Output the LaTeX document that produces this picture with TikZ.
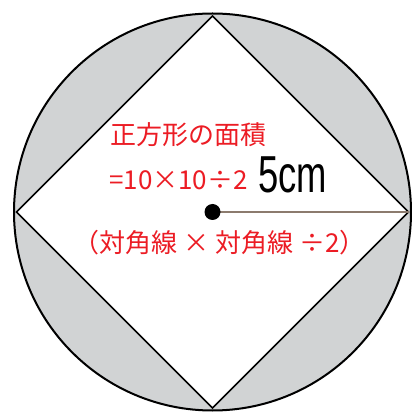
\documentclass[tikz,border=0pt]{standalone}
\usepackage{fontspec}
\usepackage{tikz}
\usetikzlibrary{calc,positioning}
\newfontfamily\cjk{Noto Sans CJK JP}
\newfontfamily\numfont{Liberation Sans}
\definecolor{shade}{HTML}{D1D3D4}
\definecolor{areared}{HTML}{EC1C24}
\definecolor{radbrown}{HTML}{8C7B6E}

\begin{document}
\begin{tikzpicture}[x=1pt,y=1pt,
        note/.style={text=areared, inner sep=0pt, font=\cjk\fontsize{26}{30}\selectfont},
        measure/.style={text=black, inner sep=0pt, font=\numfont\fontsize{52}{56}\selectfont}]
        \useasboundingbox (0,0) rectangle (412,415);
        \coordinate (O) at (212.5,203);
        \coordinate (top) at ($(O)+(0,196)$);
        \coordinate (left) at ($(O)+(-196,0)$);
        \coordinate (bottom) at ($(O)+(0,-196)$);
        \coordinate (right) at ($(O)+(196,0)$);
        % circle and square
        \draw [line width=2pt, fill=shade] (O) circle (198.5);
        \draw [line width=1.6pt, fill=white, line join=miter] (top) -- (right) -- (bottom) -- (left) -- cycle;
        \draw [radbrown, line width=1.5pt] (O) -- (right);
        \fill (O) circle (8);
        % labels
        \node [note] (title) at (188.5,280.5) {正方形の面積};
        \node [note, anchor=west] (formula) at (109,234.5) {=10×10÷2};
        \node [measure, anchor=base west] (radius) at (258,222) {\scalebox{0.7}[1]{5cm}};
        \node [note] (rule) at (219.5,172.5) {（対角線 × 対角線 ÷2）};
    \end{tikzpicture}
\end{document}
